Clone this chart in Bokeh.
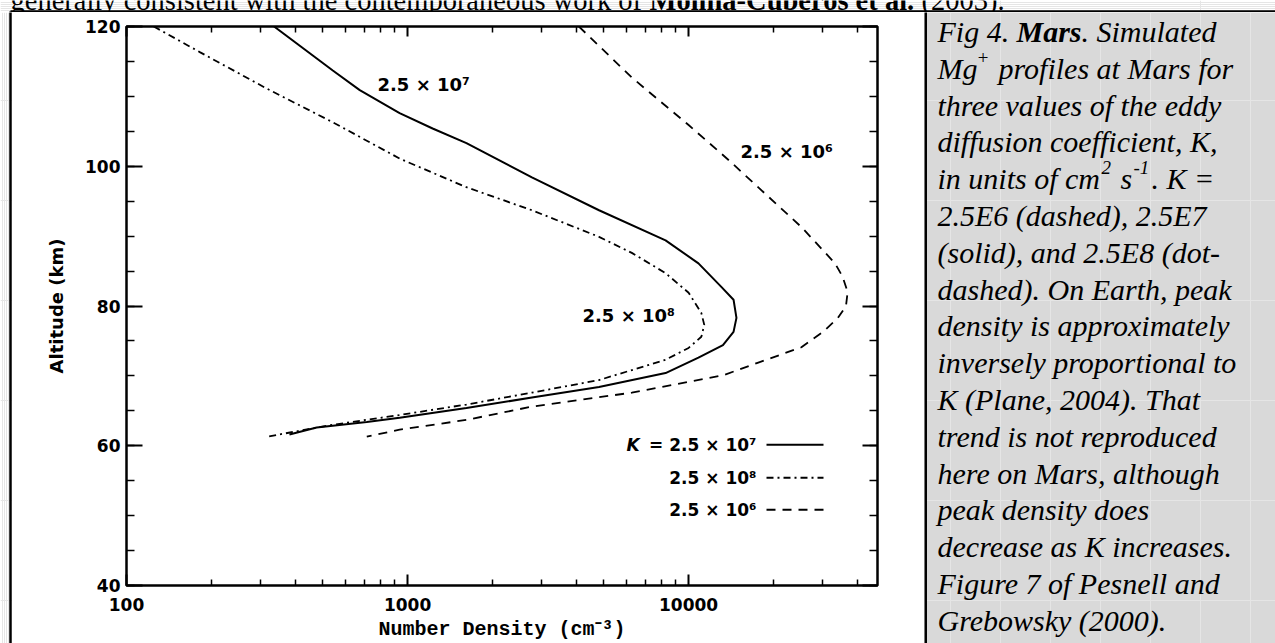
from bokeh.plotting import figure
from bokeh.layouts import column, row
from bokeh.models import (Range1d, LogAxis, LinearAxis, FixedTicker,
                          SingleIntervalTicker, Label, CustomJSTickFormatter)
from bokeh.embed import file_html
from bokeh.resources import INLINE
import math

# ---------------- data ----------------
# K = 2.5e7 (solid)
n_k7 = [335, 542, 676, 937, 1228, 1620, 2770, 4800, 8280, 10840, 13100, 14450,
        14800, 14450, 13250, 10840, 8280, 4800, 2770, 1620, 937, 716, 475, 380]
alt_k7 = [120, 113.7, 110.9, 107.6, 105.4, 103.3, 98.4, 93.7, 89.4, 86.1, 82.7,
          80.9, 78.3, 76.3, 74.4, 72.6, 70.4, 68.4, 66.9, 65.4, 64.0, 63.4, 62.6, 61.6]
# K = 2.5e8 (dot-dashed)
n_k8 = [125, 183, 316, 542, 937, 1620, 2770, 4800, 6280, 8280, 10000, 11100,
        11370, 11100, 10000, 8280, 4800, 2770, 1620, 937, 542, 316]
alt_k8 = [120, 116.3, 111.1, 106.3, 101.1, 97, 93.7, 89.9, 87.6, 84.7, 81.9,
          79, 77.3, 75.6, 74, 72.3, 69.4, 67.6, 65.9, 64.4, 63, 61.3]
# K = 2.5e6 (dashed)
n_k6 = [4070, 6280, 10000, 13870, 25200, 33200, 35300, 36800, 36300, 34000,
        30100, 25200, 17700, 13300, 6280, 2770, 1620, 937, 716]
alt_k6 = [120, 112.7, 105.9, 100.9, 91.3, 86.1, 84.2, 82, 80, 78.3,
          76.3, 74.1, 71.9, 70.1, 67.6, 65.6, 63.7, 62.3, 61.3]

x_major = [100, 1000, 10000]
x_minor = [200, 300, 400, 500, 600, 700, 800, 900,
           2000, 3000, 4000, 5000, 6000, 7000, 8000, 9000,
           20000, 30000, 40000]
x_tick_labels = ["100", "1000", "10000"]
x_range_lim = [100, 47000]
y_range_lim = [40, 120]

curve_labels = ["2.5 × 10⁷", "2.5 × 10⁸", "2.5 × 10⁶"]
legend_labels = ["= 2.5 × 10⁷", "2.5 × 10⁸", "2.5 × 10⁶"]

caption_rest = ["2.5E6 (dashed), 2.5E7",
                "(solid), and 2.5E8 (dot-",
                "dashed). On Earth, peak",
                "density is approximately",
                "inversely proportional to",
                "K (Plane, 2004). That",
                "trend is not reproduced",
                "here on Mars, although",
                "peak density does",
                "decrease as K increases.",
                "Figure 7 of Pesnell and",
                "Grebowsky (2000)."]

# ---------------- page geometry (pixels) ----------------
W, H = 1275, 643
TOP_H = 12          # strip above the table
LEFT_W = 12         # strip with the table's left rule
CAP_X = 924         # caption cell starts here
FL, FR, FT, FB = 126, 877, 26, 586   # plot frame on the page

TICK_FONT = "DejaVu Sans"
SERIF = "Liberation Serif"


def blank_fig(w, h, x0, x1, y0, y1, bg="white"):
    f = figure(width=w, height=h, x_range=Range1d(x0, x1), y_range=Range1d(y1, y0),
               x_axis_location=None, y_axis_location=None,
               output_backend="svg", toolbar_location=None,
               min_border=0, min_border_left=0, min_border_right=0,
               min_border_top=0, min_border_bottom=0, frame_align=False)
    f.outline_line_color = None
    f.background_fill_color = bg
    f.border_fill_color = bg
    return f


def page_label(f, text, x, y, size, style="normal", font=SERIF):
    f.add_layout(Label(x=x, y=y, text=text, text_font=font, text_font_size=size,
                       text_font_style=style, text_align="left",
                       text_baseline="alphabetic", text_color="black"))


# ---------------- top strip: cut-off body text + table top rule ----------------
top = blank_fig(W, TOP_H, 0, W, 0, TOP_H)
TY = 0
page_label(top, "generally consistent with the contemporaneous work of", 10, TY, "28.5px")
page_label(top, "Molina-Cuberos et al.", 649, TY, "28.5px", "bold")
page_label(top, "(2003).", 921, TY, "28.5px")
top.segment(x0=[10, 10, CAP_X + 1], y0=[11, 11, 11], x1=[W + 5, 10, CAP_X + 1],
            y1=[11, 20, 20], line_color="black", line_width=2.5)

# ---------------- left strip: table left rule ----------------
left = blank_fig(LEFT_W, H - TOP_H, 0, LEFT_W, TOP_H, H)
left.segment(x0=[10], y0=[TOP_H - 2], x1=[10], y1=[H + 5], line_color="black",
             line_width=2.5)

# ---------------- chart ----------------
CW = CAP_X - LEFT_W
p = figure(width=CW, height=H - TOP_H, x_axis_type="log",
           x_range=Range1d(*x_range_lim), y_range=Range1d(*y_range_lim),
           output_backend="svg", toolbar_location=None, frame_align=False,
           min_border_left=FL - LEFT_W, min_border_right=CAP_X - FR,
           min_border_top=FT - TOP_H, min_border_bottom=H - FB)
p.background_fill_color = "white"
p.border_fill_color = "white"
p.outline_line_color = "black"
p.outline_line_width = 2.5
p.grid.visible = False


def style_axis(ax, maj_in, min_in, show_labels):
    ax.axis_line_color = None
    ax.major_tick_in = maj_in
    ax.major_tick_out = 0
    ax.minor_tick_in = min_in
    ax.minor_tick_out = 0
    ax.major_tick_line_width = 2
    ax.minor_tick_line_width = 1.5
    ax.major_tick_line_color = "black"
    ax.minor_tick_line_color = "black"
    ax.major_label_text_font = TICK_FONT
    ax.major_label_text_font_style = "bold"
    ax.major_label_text_font_size = "17px"
    ax.major_label_text_color = "black"
    if not show_labels:
        ax.formatter = CustomJSTickFormatter(code="return ''")
        ax.major_label_text_font_size = "1px"
        ax.major_label_standoff = 0


xa = p.xaxis[0]
xa.ticker = FixedTicker(ticks=x_major, minor_ticks=x_minor)
xa.major_label_overrides = {v: s for v, s in zip(x_major, x_tick_labels)}
style_axis(xa, 11, 6, True)
xa.major_label_standoff = 12
xa.axis_label = "Number Density (cm⁻³)"
xa.axis_label_text_font = "Liberation Mono"
xa.axis_label_text_font_style = "bold"
xa.axis_label_text_font_size = "20px"
xa.axis_label_text_color = "black"
xa.axis_label_standoff = 4

ya = p.yaxis[0]
ya.ticker = SingleIntervalTicker(interval=20, num_minor_ticks=4)
style_axis(ya, 16, 8, True)
ya.major_label_standoff = 6
ya.axis_label = "Altitude (km)"
ya.axis_label_text_font = TICK_FONT
ya.axis_label_text_font_style = "bold"
ya.axis_label_text_font_size = "18px"
ya.axis_label_text_color = "black"
ya.axis_label_standoff = 15

top_ax = LogAxis(ticker=FixedTicker(ticks=x_major, minor_ticks=x_minor))
style_axis(top_ax, 10, 6, False)
p.add_layout(top_ax, "above")
right_ax = LinearAxis(ticker=SingleIntervalTicker(interval=20, num_minor_ticks=4))
style_axis(right_ax, 15, 8, False)
p.add_layout(right_ax, "right")

p.line(n_k7, alt_k7, line_color="black", line_width=2)
p.line(n_k8, alt_k8, line_color="black", line_width=1.8, line_dash="7 4 2 4")
p.line(n_k6, alt_k6, line_color="black", line_width=1.8, line_dash="9 7")


def sx(px):
    return px - FL


def sy(py):
    return FB - py


def chart_label(text, px, py, size, style="bold", align="left"):
    p.add_layout(Label(x=sx(px), y=sy(py), x_units="screen", y_units="screen",
                       text=text, text_font=TICK_FONT, text_font_size=size,
                       text_font_style=style, text_align=align,
                       text_baseline="middle", text_color="black"))


for t, (px, py) in zip(curve_labels, [(377, 85), (582, 316), (740, 152)]):
    chart_label(t, px, py, "18px")

decade_px = (FR - FL) / math.log10(x_range_lim[1] / x_range_lim[0])


def px_to_n(px):
    return x_range_lim[0] * 10 ** ((px - FL) / decade_px)


def py_to_alt(py):
    return y_range_lim[1] - (py - FT) * (y_range_lim[1] - y_range_lim[0]) / (FB - FT)


rows_py = [445, 478, 510]
dashes = ["solid", "7 4 2 4", "9 7"]
chart_label("K", 626, rows_py[0], "17px", "bold italic")
for t, py, d in zip(legend_labels, rows_py, dashes):
    chart_label(t, 756, py, "17px", "bold", "right")
    p.segment(x0=[px_to_n(766)], y0=[py_to_alt(py)], x1=[px_to_n(823)],
              y1=[py_to_alt(py)], line_color="black", line_width=2,
              line_dash=d)

# ---------------- caption cell ----------------
cap = blank_fig(W - CAP_X, H - TOP_H, CAP_X, W, TOP_H, H, bg="#d9d9d9")
cap.segment(x0=[CAP_X + 1], y0=[TOP_H - 2], x1=[CAP_X + 1], y1=[H + 5],
            line_color="black", line_width=3)

CX = 937
LH = 36.8
B0 = 31
CS = "30px"
SS = "19px"


def base(i):
    return B0 + LH * i


page_label(cap, "Fig 4.", CX, base(0), CS, "italic")
page_label(cap, "Mars", 1016, base(0), CS, "bold italic")
page_label(cap, ". Simulated", 1081, base(0), CS, "italic")
page_label(cap, "Mg", CX, base(1), CS, "italic")
page_label(cap, "+", 976, base(1) - 11, SS, "italic")
page_label(cap, "profiles at Mars for", 998, base(1), CS, "italic")
page_label(cap, "three values of the eddy", CX, base(2), CS, "italic")
page_label(cap, "diffusion coefficient, K,", CX, base(3), CS, "italic")
page_label(cap, "in units of cm", CX, base(4), CS, "italic")
page_label(cap, "2", 1101, base(4) - 11, SS, "italic")
page_label(cap, "s", 1120, base(4), CS, "italic")
page_label(cap, "-1", 1133, base(4) - 11, SS, "italic")
page_label(cap, ". K =", 1151, base(4), CS, "italic")
for i, t in enumerate(caption_rest):
    page_label(cap, t, CX, base(5 + i), CS, "italic")

layout = column(top, row(left, p, cap, spacing=0), spacing=0)
open("out.html", "w").write(file_html(layout, INLINE))
